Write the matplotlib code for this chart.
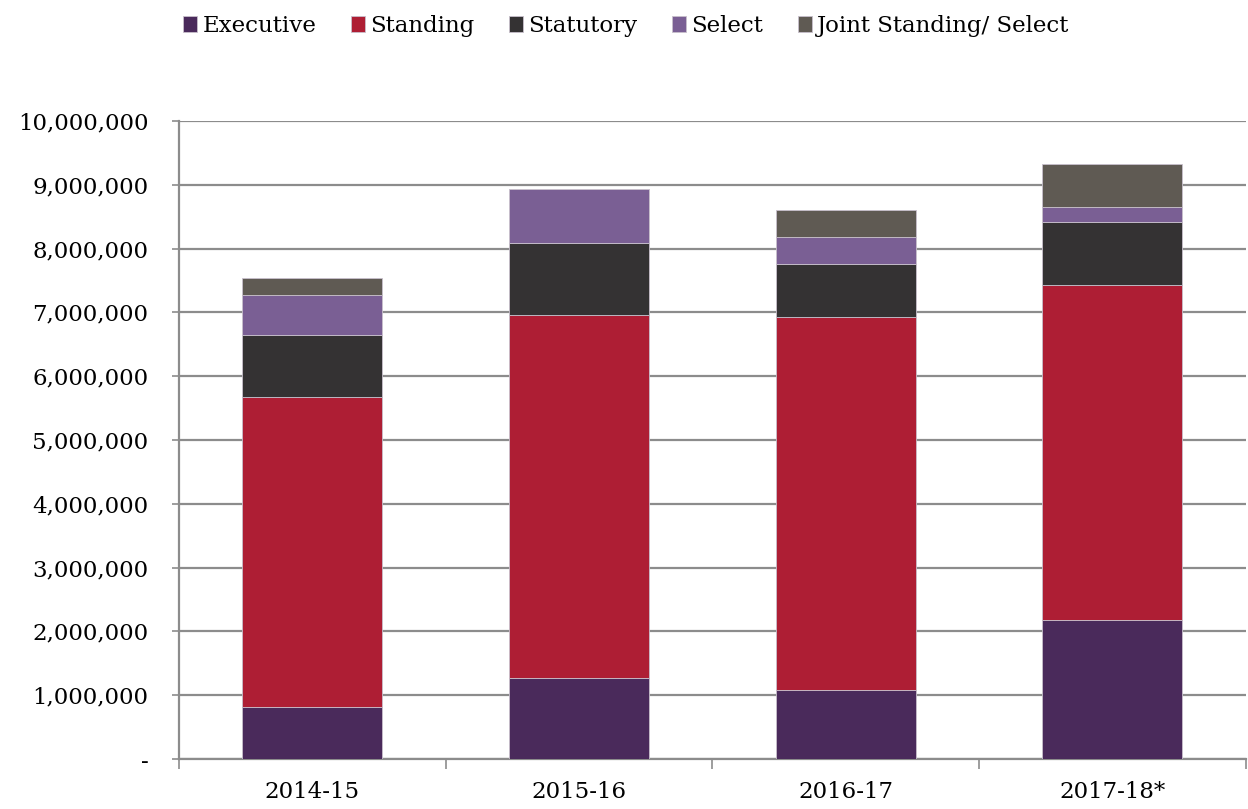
import matplotlib
matplotlib.use("Agg")
import matplotlib.pyplot as plt
from matplotlib.ticker import FuncFormatter, FixedLocator
import numpy as np

years = ["2014-15", "2015-16", "2016-17", "2017-18*"]
series_names = ["Executive", "Standing", "Statutory", "Select", "Joint Standing/ Select"]
executive = [812000, 1266000, 1085000, 2176000]
standing = [4865000, 5696000, 5840000, 5250000]
statutory = [972000, 1123000, 830000, 994000]
select = [627000, 846000, 424000, 229000]
joint = [266000, 0, 423000, 674000]
yticks = [0, 1000000, 2000000, 3000000, 4000000, 5000000, 6000000, 7000000, 8000000, 9000000, 10000000]

colors = ["#4a2a5b", "#ae1e34", "#343233", "#7a5f94", "#5f5a53"]

plt.rcParams['font.family'] = ['DejaVu Serif']

fig = plt.figure(figsize=(12.48, 8.09), dpi=100)
ax = fig.add_axes([0.1434, 0.0618, 0.8546, 0.7886])

x = np.arange(len(years))
bottom = np.zeros(len(years))
handles = []
for name, vals, c in zip(series_names, [executive, standing, statutory, select, joint], colors):
    vals = np.array(vals, dtype=float)
    b = ax.bar(x, vals, width=0.525, bottom=bottom, color=c, label=name,
               edgecolor="#c8c0cc", linewidth=0.6, zorder=3)
    handles.append(b)
    bottom += vals

ax.set_xlim(-0.5, 3.5)
ax.set_ylim(0, 10000000)
ax.set_yticks(yticks)
ax.yaxis.set_major_formatter(FuncFormatter(lambda v, p: "-" if v == 0 else f"{v:,.0f}"))
ax.grid(axis="y", color="#8c8c8c", linewidth=1.6, zorder=0)
ax.set_axisbelow(True)

ax.xaxis.set_major_locator(FixedLocator([-0.5, 0.5, 1.5, 2.5, 3.5]))
ax.xaxis.set_major_formatter(FuncFormatter(lambda v, p: ""))
ax.xaxis.set_minor_locator(FixedLocator(list(x)))
ax.set_xticklabels(years, minor=True)
ax.tick_params(axis="x", which="major", length=7, width=1.2, color="#8c8c8c", direction="out")
ax.tick_params(axis="x", which="minor", length=0, pad=16, labelsize=16.5)
ax.tick_params(axis="y", length=5, width=1.2, color="#8c8c8c", pad=17, labelsize=16.5)

for s in ["top", "right"]:
    ax.spines[s].set_visible(False)
for s in ["left", "bottom"]:
    ax.spines[s].set_color("#8c8c8c")
    ax.spines[s].set_linewidth(1.6)

fig.legend(handles=handles, labels=series_names, loc="upper center", bbox_to_anchor=(0.502, 1.007),
           ncol=5, frameon=False, fontsize=16.5, handlelength=0.6, handleheight=0.75,
           handletextpad=0.25, columnspacing=1.5)

fig.savefig("out.png", dpi=100)
